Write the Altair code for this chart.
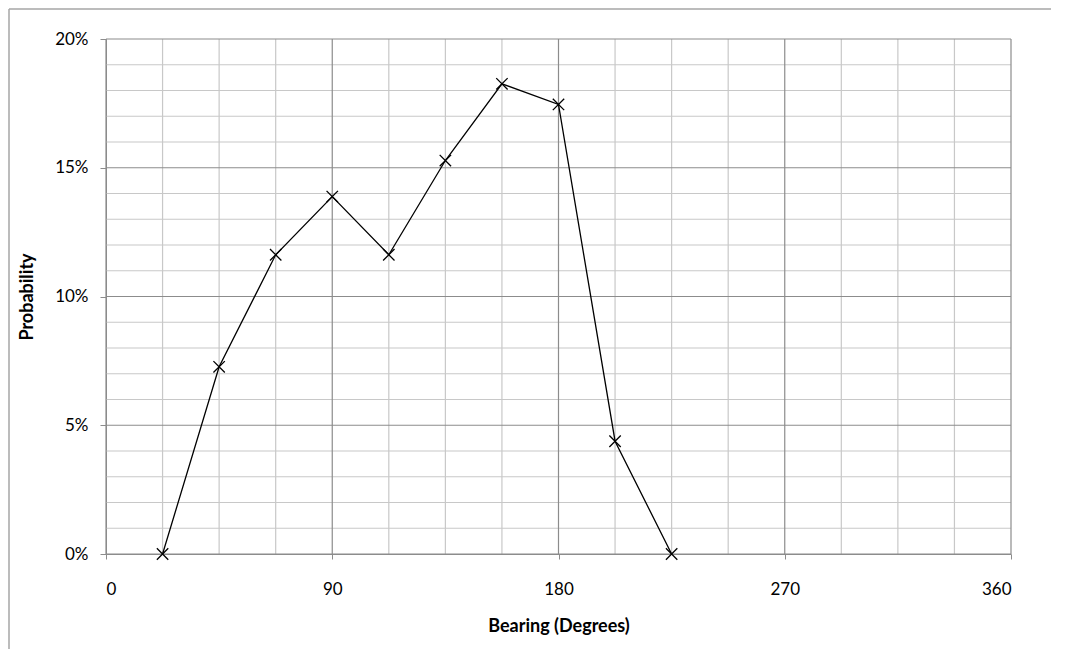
import altair as alt
import pandas as pd

# data
bearing = [22.5, 45, 67.5, 90, 112.5, 135, 157.5, 180, 202.5, 225]
probability = [0.0, 0.0727, 0.1162, 0.1388, 0.1162, 0.1528, 0.1826, 0.1746, 0.0438, 0.0]

x_major = [0, 90, 180, 270, 360]
x_minor = [22.5, 45, 67.5, 112.5, 135, 157.5, 202.5, 225, 247.5, 292.5, 315, 337.5]
y_major = [0.0, 0.05, 0.10, 0.15, 0.20]
y_minor = [0.01, 0.02, 0.03, 0.04, 0.06, 0.07, 0.08, 0.09, 0.11, 0.12, 0.13, 0.14,
           0.16, 0.17, 0.18, 0.19]

FONT = "Lato"
MAJOR = "#8c8c8c"
MINOR = "#c8c8c8"

df = pd.DataFrame({"bearing": bearing, "prob": probability})

xscale = alt.Scale(domain=[0, 360], nice=False, zero=False)
yscale = alt.Scale(domain=[0, 0.2], nice=False)

common = dict(labelFont=FONT, titleFont=FONT, labelFontSize=17, titleFontSize=18,
              labelColor="#000000", titleColor="#000000", titleFontWeight="bold",
              labelFontWeight="normal", grid=False, domainColor=MAJOR, tickColor=MAJOR)

xaxis = alt.Axis(values=x_major, title="Bearing (Degrees)", format="d",
                 tickSize=5, labelPadding=22, titlePadding=20, **common)
yaxis = alt.Axis(values=y_major, title="Probability", format=".0%",
                 tickSize=6, labelPadding=12, titlePadding=18, **common)

xmin = alt.Chart(pd.DataFrame({"v": x_minor})).mark_rule(color=MINOR, strokeWidth=1.2).encode(
    x=alt.X("v:Q", scale=xscale, axis=xaxis))
xmaj = alt.Chart(pd.DataFrame({"v": x_major})).mark_rule(color=MAJOR, strokeWidth=1.2).encode(
    x=alt.X("v:Q", scale=xscale, axis=xaxis))
ymin = alt.Chart(pd.DataFrame({"v": y_minor})).mark_rule(color=MINOR, strokeWidth=1.2).encode(
    y=alt.Y("v:Q", scale=yscale, axis=yaxis))
ymaj = alt.Chart(pd.DataFrame({"v": y_major})).mark_rule(color=MAJOR, strokeWidth=1.2).encode(
    y=alt.Y("v:Q", scale=yscale, axis=yaxis))

base = alt.Chart(df).encode(
    x=alt.X("bearing:Q", scale=xscale, axis=xaxis),
    y=alt.Y("prob:Q", scale=yscale, axis=yaxis),
)
line = base.mark_line(color="black", strokeWidth=1.3)
pts = base.mark_point(shape="M-1,-1L1,1M-1,1L1,-1", size=130, filled=False,
                      color="black", strokeWidth=1.3, opacity=1)

frame_v = alt.Chart(pd.DataFrame({"a": [0]})).mark_rule(color="#a6a6a6", strokeWidth=1.5).encode(
    x=alt.value(-97), y=alt.value(-30), y2=alt.value(640))
frame_h = alt.Chart(pd.DataFrame({"a": [0]})).mark_rule(color="#a6a6a6", strokeWidth=1.5).encode(
    x=alt.value(-97), x2=alt.value(1000), y=alt.value(-30))

chart = alt.layer(xmin, ymin, xmaj, ymaj, line, pts, frame_v, frame_h).properties(
    width=905, height=515,
    autosize=alt.AutoSizeParams(type="none"),
    padding={"left": 98, "top": 31, "right": 40, "bottom": 110},
).configure_view(stroke=None)

chart.save("out.html", embed_options={"renderer": "svg", "actions": False})
